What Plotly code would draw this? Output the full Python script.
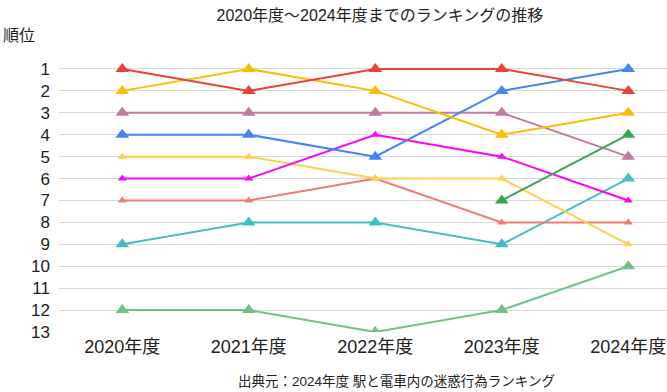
import plotly.graph_objects as go

years = ["2020年度", "2021年度", "2022年度", "2023年度", "2024年度"]
rank_ticks = list(range(1, 14))

s_red = [1, 2, 1, 1, 2]
s_gold = [2, 1, 2, 4, 3]
s_mauve = [3, 3, 3, 3, 5]
s_blue = [4, 4, 5, 2, 1]
s_lightyellow = [5, 5, 6, 6, 9]
s_magenta = [6, 6, 4, 5, 7]
s_salmon = [7, 7, 6, 8, 8]
s_teal = [9, 8, 8, 9, 6]
s_green = [None, None, None, 7, 4]
s_lightgreen = [12, 12, 13, 12, 10]

series = [
    (s_lightgreen, "#71C287", 12),
    (s_teal, "#46BDC6", 12),
    (s_salmon, "#F07B72", 8),
    (s_lightyellow, "#FFD04B", 8),
    (s_magenta, "#FF00FF", 8),
    (s_mauve, "#C27BA0", 12),
    (s_blue, "#4285F4", 12),
    (s_gold, "#FBBC04", 12),
    (s_red, "#EA4335", 12),
    (s_green, "#34A853", 12),
]

FONT = "Liberation Sans, Arial, Noto Sans CJK JP, sans-serif"

fig = go.Figure()
for vals, color, msize in series:
    fig.add_trace(go.Scatter(
        x=list(range(len(years))), y=vals, mode="lines+markers",
        line=dict(color=color, width=2),
        marker=dict(symbol="triangle-up", size=msize, color=color),
        showlegend=False, hoverinfo="skip",
    ))

W, H = 667, 392
L, R, T, B = 59, 0, 58, 60

def px2paper_x(px):
    return (px - L) / (W - L - R)

def py2paper_y(py):
    return (H - B - py) / (H - T - B)

fig.update_layout(
    width=W, height=H,
    margin=dict(l=L, r=R, t=T, b=B),
    paper_bgcolor="white", plot_bgcolor="white",
    font=dict(family=FONT, color="#222222"),
    title=dict(text="2020年度～2024年度までのランキングの推移",
               x=352 / W, xanchor="center", xref="paper",
               y=1 - 15 / H, yanchor="middle", yref="container",
               font=dict(size=16, color="#222222")),
    xaxis=dict(
        tickmode="array", tickvals=list(range(len(years))), ticktext=years,
        range=[-0.5, 4.306], showgrid=False, zeroline=False, showline=False,
        tickfont=dict(size=18, color="#222222"), ticklabelstandoff=2,
    ),
    yaxis=dict(
        tickmode="array", tickvals=rank_ticks, ticktext=[str(v) for v in rank_ticks],
        range=[13, 0.5], showgrid=True, gridcolor="#d9d9d9", gridwidth=1,
        zeroline=False, showline=False,
        tickfont=dict(size=17, color="#222222"), ticklabelstandoff=8,
    ),
    annotations=[
        dict(text="順位", xref="paper", yref="paper",
             x=px2paper_x(1), y=py2paper_y(35), xanchor="left", yanchor="middle",
             showarrow=False, font=dict(size=16, color="#222222")),
        dict(text="出典元：2024年度 駅と電車内の迷惑行為ランキング", xref="paper", yref="paper",
             x=px2paper_x(396), y=py2paper_y(381), xanchor="center", yanchor="middle",
             showarrow=False, font=dict(size=13.5, color="#222222")),
    ],
)

fig.write_html("out.html", config={"displayModeBar": False},
               post_script="document.body.style.margin='0';")
